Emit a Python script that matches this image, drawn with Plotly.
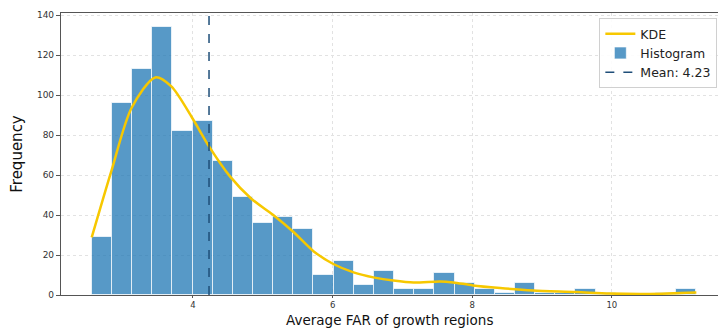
import plotly.graph_objects as go

# ---- data ----
BIN_START = 2.55
BIN_WIDTH = 0.2887
COUNTS = [29, 96, 113, 134, 82, 87, 67, 49, 36, 39,
          33, 10, 17, 5, 12, 3, 3, 11, 6, 3,
          1, 6, 1, 1, 3, 1, 0, 0, 1, 3]

KDE_X = [2.55, 2.83, 3.12, 3.46, 3.69, 3.99, 4.23, 4.53, 4.84, 5.15,
         5.44, 5.73, 6.01, 6.30, 6.60, 6.87, 7.16, 7.54, 7.73, 8.01,
         8.40, 8.87, 9.49, 9.97, 10.54, 11.21]
KDE_Y = [28.8, 61.8, 93.5, 108.8, 104.3, 88.5, 74.3, 59.3, 48.0, 40.0,
         31.5, 21.8, 15.5, 11.3, 8.7, 7.2, 6.2, 6.8, 6.3, 4.8,
         3.5, 2.3, 1.5, 0.7, 0.5, 1.2]

MEAN = 4.23
X_TICKS = [4, 6, 8, 10]
Y_TICKS = [0, 20, 40, 60, 80, 100, 120, 140]

centers = [BIN_START + BIN_WIDTH * (i + 0.5) for i in range(len(COUNTS))]

fig = go.Figure()
fig.add_trace(go.Bar(
    x=centers, y=COUNTS, width=BIN_WIDTH, name="Histogram",
    marker=dict(color="rgba(31,119,180,0.75)",
                line=dict(color="rgba(255,255,255,0.7)", width=1)),
    legendrank=2,
))
fig.add_trace(go.Scatter(
    x=KDE_X, y=KDE_Y, mode="lines", name="KDE",
    line=dict(color="#f7c800", width=2.5, shape="spline", smoothing=0.8),
    legendrank=1,
))
fig.add_vline(x=MEAN, line=dict(color="#1f4e79", width=1.5, dash="dash"))
fig.add_trace(go.Scatter(
    x=[None], y=[None], mode="lines", name=f"Mean: {MEAN:.2f}",
    line=dict(color="#1f4e79", width=1.5, dash="dash"),
    legendrank=3,
))

fig.add_annotation(
    text="Average FAR of growth regions", xref="paper", yref="paper",
    x=0.5, y=0, yshift=-16, xanchor="center", yanchor="top",
    showarrow=False, borderpad=0, font=dict(size=13.5, color="#111"),
)

fig.update_layout(
    width=718, height=329,
    margin=dict(l=61, r=0, t=13, b=34),
    plot_bgcolor="white", paper_bgcolor="white",
    font=dict(family="DejaVu Sans", color="#333"),
    bargap=0,
    showlegend=True,
    legend=dict(
        x=0.999, y=0.982, xanchor="right", yanchor="top",
        bgcolor="rgba(255,255,255,0.9)", bordercolor="#d0d0d0", borderwidth=1,
        font=dict(size=12.5, color="#222"), tracegroupgap=0,
    ),
    xaxis=dict(
        range=[2.11, 11.52], tickvals=X_TICKS,
        showgrid=True, gridcolor="#e2e2e2", griddash="dot", gridwidth=1,
        showline=True, linecolor="#555", linewidth=1.2, mirror=True,
        ticks="outside", ticklen=2, tickcolor="#555",
        tickfont=dict(size=8.5, color="#333"),
        zeroline=False,
    ),
    yaxis=dict(
        range=[0, 141], tickvals=Y_TICKS,
        showgrid=True, gridcolor="#e2e2e2", griddash="dot", gridwidth=1,
        showline=True, linecolor="#555", linewidth=1.2, mirror=False,
        ticks="outside", ticklen=4, tickcolor="#555",
        tickfont=dict(size=9, color="#333"),
        title=dict(text="Frequency", font=dict(size=15, color="#111"), standoff=10),
        zeroline=False,
    ),
)

fig.write_html("out.html")
